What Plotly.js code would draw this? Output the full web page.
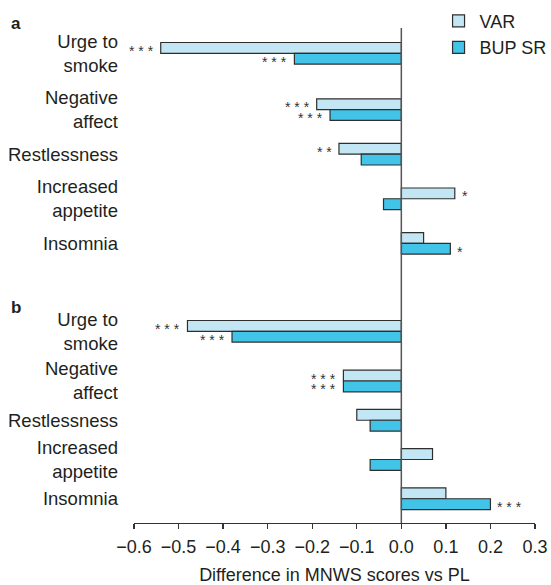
<!DOCTYPE html>
<html>
<head>
<meta charset="utf-8">
<script src="https://cdn.plot.ly/plotly-3.0.1.min.js"></script>
<style>
  html, body { margin: 0; padding: 0; background: #ffffff; }
  #chart { width: 551px; height: 585px; }
</style>
</head>
<body>
<div id="chart"></div>
<script>
// Symptom categories (MNWS items), top to bottom
var categories = ['Urge to<br>smoke', 'Negative<br>affect', 'Restlessness', 'Increased<br>appetite', 'Insomnia'];

// Panel a: difference in MNWS scores vs placebo
var varA = [-0.54, -0.19, -0.14, 0.12, 0.05];
var bupA = [-0.24, -0.16, -0.09, -0.04, 0.11];
var starsVarA = ['* * *', '* * *', '* *', '*', ''];
var starsBupA = ['* * *', '* * *', '', '', '*'];

// Panel b: difference in MNWS scores vs placebo
var varB = [-0.48, -0.13, -0.10, 0.07, 0.10];
var bupB = [-0.38, -0.13, -0.07, -0.07, 0.20];
var starsVarB = ['* * *', '* * *', '', '', ''];
var starsBupB = ['* * *', '* * *', '', '', '* * *'];

var seriesNames = ['VAR', 'BUP SR'];
var xTickVals = [-0.6, -0.5, -0.4, -0.3, -0.2, -0.1, 0.0, 0.1, 0.2, 0.3];

var FONT = 'Liberation Sans, Arial, Helvetica, sans-serif';
var TEXT = '#231f20';
var LIGHT = '#c3e6f5';
var CYAN = '#42c3e8';
var EDGE = '#2e2e2e';

// Row layout: one slot per symptom, with a little extra room under the first row
var LEAD_GAP = 0.265;
var rowSlot = categories.map(function (c, i) { return i === 0 ? 0 : i + LEAD_GAP; });
var lastSlot = rowSlot[rowSlot.length - 1];

var barW = { a: 0.242, b: 0.275 };

function barTrace(name, vals, color, xa, ya, offsetSign, w, showLegend) {
  return {
    type: 'bar',
    orientation: 'h',
    name: name,
    x: vals,
    y: rowSlot,
    xaxis: xa,
    yaxis: ya,
    width: w,
    offset: offsetSign < 0 ? -w : 0,
    marker: { color: color, line: { color: EDGE, width: 1.2 } },
    showlegend: showLegend,
    legendgroup: name,
    hoverinfo: 'x+name'
  };
}

var data = [
  barTrace(seriesNames[0], varA, LIGHT, 'x', 'y', -1, barW.a, true),
  barTrace(seriesNames[1], bupA, CYAN, 'x', 'y', 1, barW.a, true),
  barTrace(seriesNames[0], varB, LIGHT, 'x2', 'y2', -1, barW.b, false),
  barTrace(seriesNames[1], bupB, CYAN, 'x2', 'y2', 1, barW.b, false)
];

// Significance markers beside each bar end
var annotations = [];
function addStars(vals, stars, xref, yref, w, sign) {
  for (var i = 0; i < vals.length; i++) {
    if (!stars[i]) continue;
    var neg = vals[i] < 0;
    annotations.push({
      x: vals[i],
      y: rowSlot[i] + sign * w / 2,
      xref: xref,
      yref: yref,
      text: stars[i],
      showarrow: false,
      xanchor: neg ? 'right' : 'left',
      yanchor: 'middle',
      height: 10,
      valign: 'middle',
      xshift: neg ? -5 : 5,
      yshift: -3,
      font: { family: FONT, size: 14, color: '#333333' }
    });
  }
}
addStars(varA, starsVarA, 'x', 'y', barW.a, -1);
addStars(bupA, starsBupA, 'x', 'y', barW.a, 1);
addStars(varB, starsVarB, 'x2', 'y2', barW.b, -1);
addStars(bupB, starsBupB, 'x2', 'y2', barW.b, 1);

// Panel letters
annotations.push({
  text: '<b>a</b>', xref: 'paper', yref: 'paper', x: -0.312, y: 1.0095,
  xanchor: 'left', yanchor: 'middle', showarrow: false,
  font: { family: FONT, size: 17, color: TEXT }
});
annotations.push({
  text: '<b>b</b>', xref: 'paper', yref: 'paper', x: -0.312, y: 0.436,
  xanchor: 'left', yanchor: 'middle', showarrow: false,
  font: { family: FONT, size: 17, color: TEXT }
});

var yAxisCommon = {
  type: 'linear',
  tickmode: 'array',
  tickvals: rowSlot,
  ticktext: categories,
  showgrid: false,
  zeroline: false,
  showline: false,
  ticks: '',
  ticklabelstandoff: 15,
  tickfont: { family: FONT, size: 18.5, color: TEXT },
  automargin: false,
  fixedrange: true
};

var layout = {
  width: 551,
  height: 585,
  margin: { l: 134, r: 16, t: 28, b: 62, autoexpand: false },
  paper_bgcolor: '#ffffff',
  plot_bgcolor: '#ffffff',
  font: { family: FONT, size: 18, color: TEXT },
  barmode: 'overlay',
  showlegend: true,
  legend: {
    x: 0.757, y: 1.051, xanchor: 'left', yanchor: 'top',
    bgcolor: 'rgba(0,0,0,0)',
    itemwidth: 32,
    font: { family: FONT, size: 18, color: TEXT },
    traceorder: 'normal'
  },
  xaxis: {
    anchor: 'y',
    range: [-0.6, 0.3],
    visible: false,
    fixedrange: true
  },
  yaxis: Object.assign({}, yAxisCommon, {
    anchor: 'x', domain: [0.52, 0.9939], range: [lastSlot + 0.5, -0.5]
  }),
  xaxis2: {
    anchor: 'y2',
    matches: 'x',
    range: [-0.6, 0.3],
    tickvals: xTickVals,
    tickformat: '.1f',
    showgrid: false,
    zeroline: false,
    showline: true,
    linecolor: '#333333',
    linewidth: 1.3,
    ticks: 'outside',
    ticklen: 5,
    tickwidth: 1.3,
    tickcolor: '#333333',
    ticklabelstandoff: 2,
    tickfont: { family: FONT, size: 18, color: TEXT },
    title: { text: 'Difference in MNWS scores vs PL', font: { family: FONT, size: 18, color: TEXT }, standoff: 12 },
    automargin: false,
    fixedrange: true
  },
  yaxis2: Object.assign({}, yAxisCommon, {
    anchor: 'x2', domain: [0, 0.4269], range: [lastSlot + 0.617, -0.5]
  }),
  shapes: [{
    type: 'line', xref: 'x', yref: 'paper',
    x0: 0, x1: 0, y0: 0, y1: 1,
    line: { color: '#555555', width: 1.5 }
  }],
  annotations: annotations
};

Plotly.newPlot('chart', data, layout, { displayModeBar: false, staticPlot: true });
</script>
</body>
</html>
